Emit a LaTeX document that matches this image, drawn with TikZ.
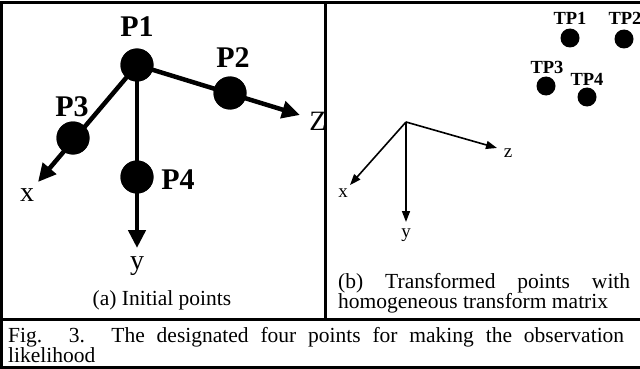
\documentclass[tikz,border=0pt]{standalone}
\usepackage{fontspec}
\setmainfont{Liberation Serif}
\usetikzlibrary{arrows.meta}

\begin{document}
\begin{tikzpicture}[
        x=1pt, y=-1pt,
        every node/.style={inner sep=0pt},
        frameline/.style={line width=3pt},
        bigdot/.style={circle, fill=black, minimum size=33pt},
        smalldot/.style={circle, fill=black, minimum size=19pt},
        bigaxis/.style={line width=4.5pt, -{Triangle[length=18pt,width=17pt]}},
        smallaxis/.style={line width=1.6pt, -{Triangle[length=11pt,width=8pt]}},
        bigname/.style={font=\fontsize{30}{30}\selectfont\bfseries},
        smallname/.style={font=\fontsize{18.5}{18.5}\selectfont\bfseries},
        bigletter/.style={font=\fontsize{28}{28}\selectfont},
        smallletter/.style={font=\fontsize{19}{19}\selectfont},
        capfont/.style={font=\fontsize{21.5}{19.5}\selectfont},
    ]
        \useasboundingbox (0,0) rectangle (640,369);

        % --- (a) initial points ---
        \node[bigdot] (P1) at (137,65)  {};
        \node[bigdot] (P2) at (230,93)  {};
        \node[bigdot] (P3) at (73,138)  {};
        \node[bigdot] (P4) at (137,177) {};
        \coordinate (ax) at (38,182);
        \coordinate (ay) at (137,248);
        \coordinate (az) at (300,115);
        \draw[bigaxis] (P1.center) -- (ax);
        \draw[bigaxis] (P1.center) -- (ay);
        \draw[bigaxis] (P1.center) -- (az);
        \foreach \p in {P1,P2,P3,P4} \fill (\p) circle (16.5pt);

        \node[bigname] (nP1) at (137,27)  {P1};
        \node[bigname] (nP2) at (233,58)  {P2};
        \node[bigname] (nP3) at (72,107)  {P3};
        \node[bigname] (nP4) at (178,180) {P4};
        \node[bigletter] (lx) at (27,195)  {x};
        \node[bigletter] (ly) at (137,266) {y};
        \node[bigletter] (lz) at (318,121) {Z};
        \node[capfont, anchor=base] (capa) at (162,305) {(a) Initial points};

        % --- (b) transformed points ---
        \node[smalldot] (TP1) at (570,38) {};
        \node[smalldot] (TP2) at (624,39) {};
        \node[smalldot] (TP3) at (546,86) {};
        \node[smalldot] (TP4) at (587,97) {};
        \node[smallname] (nTP1) at (570,18) {TP1};
        \node[smallname] (nTP2) at (625,18) {TP2};
        \node[smallname] (nTP3) at (547,67) {TP3};
        \node[smallname] (nTP4) at (587,79) {TP4};

        \coordinate (o) at (406,122);
        \coordinate (bx) at (350,185);
        \coordinate (by) at (406,222);
        \coordinate (bz) at (497,148);
        \draw[smallaxis] (o) -- (bx);
        \draw[smallaxis] (o) -- (by);
        \draw[smallaxis] (o) -- (bz);
        \node[smallletter] (mx) at (343,193) {x};
        \node[smallletter] (my) at (406,235) {y};
        \node[smallletter] (mz) at (508,153) {z};
        \node[capfont, anchor=base west, text width=292pt, align=justify] (capb) at (338,288)
            {(b) Transformed points with\linebreak homogeneous transform matrix};

        % --- frame ---
        \draw[frameline] (640,3) -- (1.5,3) -- (1.5,367.5) -- (640,367.5);
        \draw[frameline] (1.5,319) -- (640,319);
        \draw[frameline] (325,3) -- (325,319);

        % --- caption ---
        \node[capfont, anchor=base west, text width=616pt, align=justify] (cap) at (8,342)
            {Fig. 3. The designated four points for making the observation\linebreak likelihood};
    \end{tikzpicture}
\end{document}
